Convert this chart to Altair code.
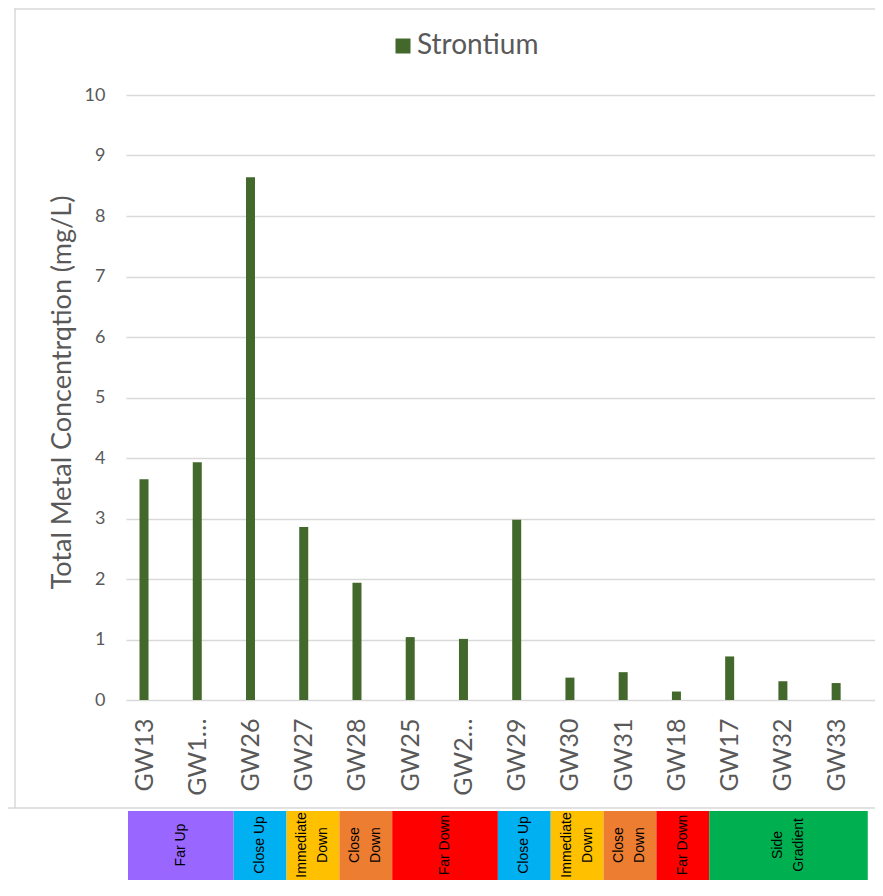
import altair as alt
import pandas as pd

# ---- data ----
wells = ["GW13", "GW1…", "GW26", "GW27", "GW28", "GW25", "GW2…",
         "GW29", "GW30", "GW31", "GW18", "GW17", "GW32", "GW33"]
strontium = [3.65, 3.93, 8.64, 2.86, 1.94, 1.04, 1.01,
             2.98, 0.37, 0.46, 0.14, 0.72, 0.31, 0.28]
y_ticks = list(range(0, 11))

groups = ["Far Up", "Close Up", "Immediate\nDown", "Close\nDown", "Far Down",
          "Close Up", "Immediate\nDown", "Close\nDown", "Far Down", "Side\nGradient"]
group_counts = [2, 1, 1, 1, 2, 1, 1, 1, 1, 3]
group_colors = ["#9966FF", "#00B0F0", "#FFC000", "#ED7D31", "#FF0000",
                "#00B0F0", "#FFC000", "#ED7D31", "#FF0000", "#00B050"]

series_name = "Strontium"
bar_color = "#43682B"
grid_color = "#D9D9D9"
text_grey = "#595959"

# ---- tables ----
bars = pd.DataFrame({
    "idx": list(range(len(wells))),
    "well": wells,
    "value": strontium,
    "series": [series_name] * len(wells),
})

starts, ends = [], []
pos = 0
for c in group_counts:
    starts.append(pos)
    pos += c
    ends.append(pos)
boxes = pd.DataFrame({
    "label": groups,
    "start": starts,
    "end": ends,
    "mid": [(s + e) / 2 for s, e in zip(starts, ends)],
    "fill": group_colors,
    "lines": [g.count("\n") + 1 for g in groups],
})

W, H = 749, 605
label_js = "[" + ",".join("'" + w + "'" for w in wells) + "]"

bar_layer = alt.Chart(bars).mark_bar(size=9).encode(
    x=alt.X("idx:Q",
            scale=alt.Scale(domain=[-0.2446, 13.636], nice=False, zero=False),
            axis=alt.Axis(values=list(range(len(wells))),
                          labelExpr=label_js + "[datum.value]",
                          labelAngle=270, labelFont="Lato", labelFontSize=25,
                          labelColor=text_grey, labelPadding=18,
                          labelOverlap=False, labelFlush=False,
                          grid=False, ticks=False, domain=False, title=None)),
    y=alt.Y("value:Q",
            scale=alt.Scale(domain=[0, 10], nice=False),
            axis=alt.Axis(values=y_ticks, labelFont="Lato", labelFontSize=18,
                          labelColor=text_grey, labelPadding=21,
                          grid=True, gridColor=grid_color, gridWidth=1.5,
                          ticks=False, domain=False,
                          title="Total Metal Concentrqtion (mg/L)",
                          titleFont="Lato", titleFontSize=27, titleFontWeight="normal",
                          titleColor=text_grey, titleAngle=270,
                          titleX=-56, titleY=297, titleAlign="center",
                          titleBaseline="alphabetic")),
    color=alt.Color("series:N",
                    scale=alt.Scale(domain=[series_name], range=[bar_color]),
                    legend=alt.Legend(orient="none", legendX=263, legendY=-63,
                                      title=None, symbolType="square",
                                      symbolSize=225, symbolStrokeWidth=0,
                                      labelFont="Lato", labelFontSize=28,
                                      labelColor=text_grey, labelOffset=0,
                                      padding=0, symbolOffset=0)),
)

box_scale = alt.Scale(domain=[-0.0379, 14.137], nice=False, zero=False)

box_rect = alt.Chart(boxes).mark_rect().encode(
    x=alt.X("start:Q", scale=box_scale, axis=None),
    x2="end:Q",
    y=alt.value(716),
    y2=alt.value(785),
    color=alt.Color("fill:N", scale=None, legend=None),
)

def box_text(n_lines, shift):
    return alt.Chart(boxes).transform_filter(
        alt.datum.lines == n_lines
    ).mark_text(
        angle=270, font="Liberation Sans", fontSize=14, color="black",
        lineBreak="\n", lineHeight=21, align="center", baseline="middle",
        dy=shift,
    ).encode(
        x=alt.X("mid:Q", scale=box_scale, axis=None),
        y=alt.value(750),
        text="label:N",
    )

text_one = box_text(1, 0)
text_two = box_text(2, -10.5)

frame_df = pd.DataFrame({"k": [0]})
frame_left = alt.Chart(frame_df).mark_rule(color=grid_color, strokeWidth=1.5).encode(
    x=alt.value(-111), x2=alt.value(-111), y=alt.value(-87), y2=alt.value(713))
frame_top = alt.Chart(frame_df).mark_rule(color=grid_color, strokeWidth=1.5).encode(
    x=alt.value(-111), x2=alt.value(W), y=alt.value(-86), y2=alt.value(-86))
frame_bottom = alt.Chart(frame_df).mark_rule(color=grid_color, strokeWidth=1.5).encode(
    x=alt.value(-118), x2=alt.value(W), y=alt.value(713), y2=alt.value(713))

chart = alt.layer(
    frame_left, frame_top, frame_bottom, bar_layer, box_rect, text_one, text_two
).resolve_scale(
    x="independent", color="independent"
).properties(
    width=W, height=H,
    autosize=alt.AutoSizeParams(type="none"),
    padding={"left": 118, "top": 87, "right": 0, "bottom": 180},
    background="white",
).configure_view(stroke=None)

chart.save("out.html", embed_options={"renderer": "svg", "actions": False})
